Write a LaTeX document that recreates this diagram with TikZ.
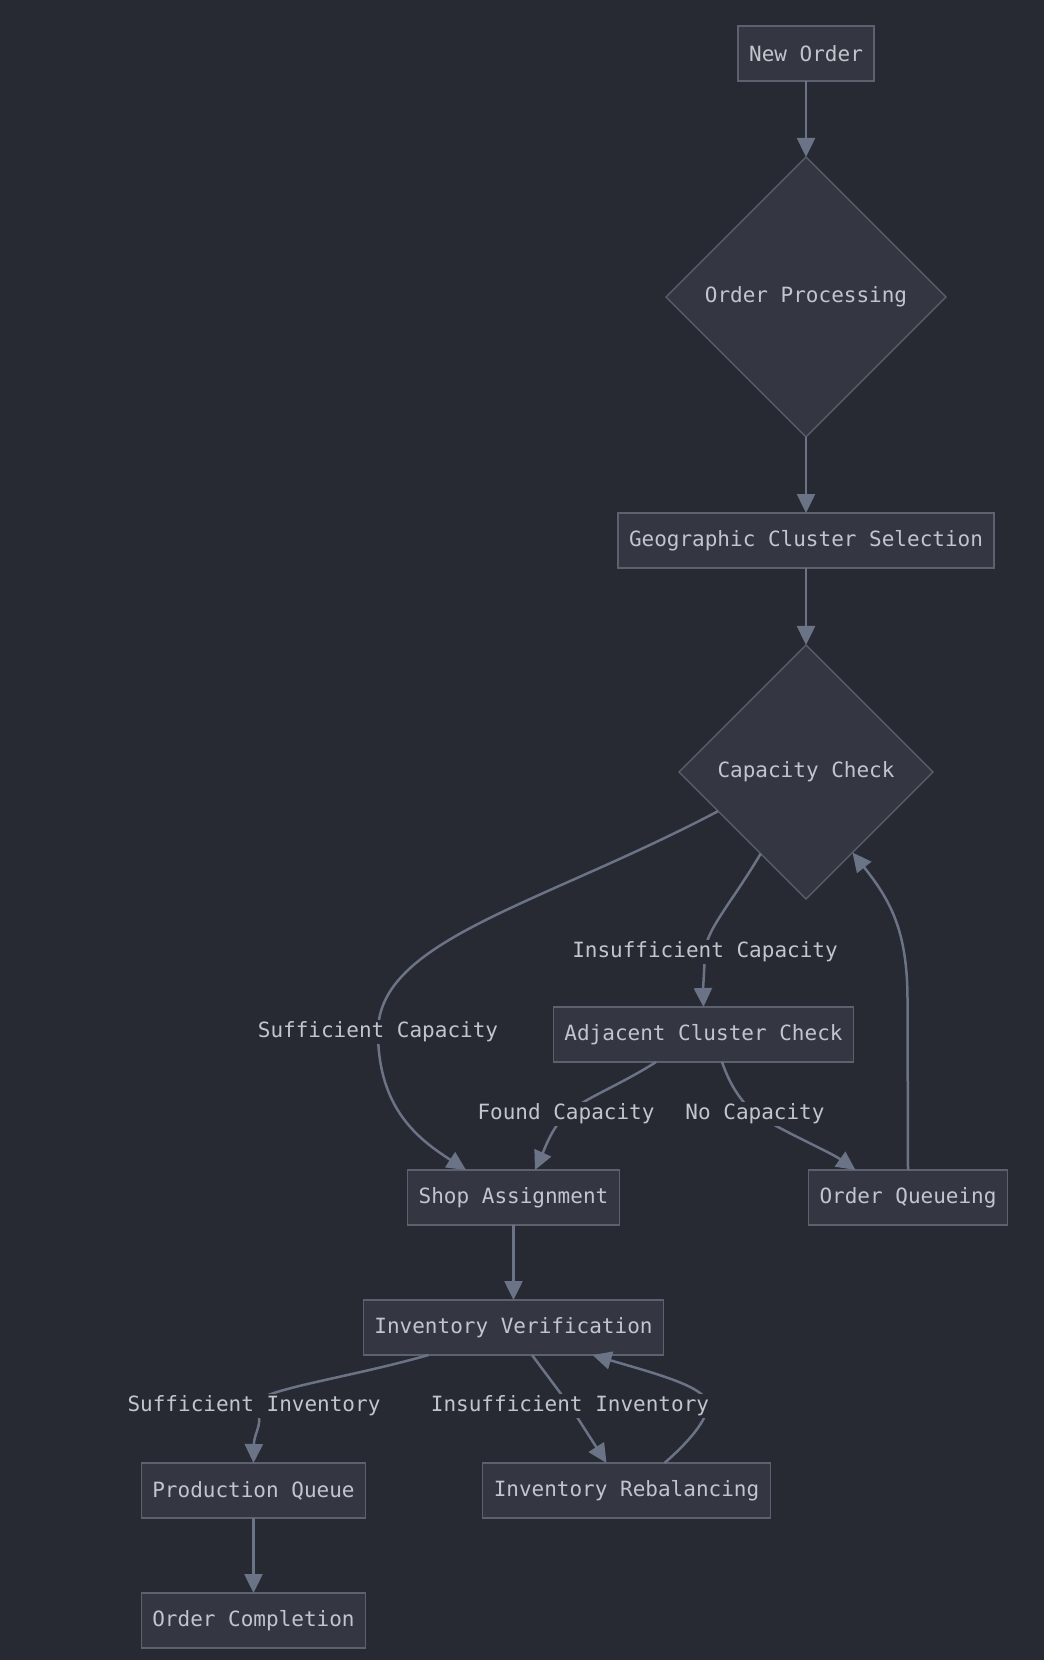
\documentclass[tikz,border=0pt]{standalone}
\usepackage{fontspec}
\setmonofont{DejaVu Sans Mono}
\usepackage{xcolor}
\usetikzlibrary{arrows.meta,positioning,shapes.geometric}
\definecolor{fundo}{HTML}{282A33}
\definecolor{preenche}{HTML}{343741}
\definecolor{borda}{HTML}{5C6170}
\definecolor{linha}{HTML}{6B7386}
\definecolor{texto}{HTML}{C0C5CE}
\tikzset{
    caixa/.style={
        rectangle,
        draw=borda,
        fill=preenche,
        line width=1.3pt,
        text=texto,
        outer sep=0pt,
        minimum height=55pt,
        inner xsep=11pt
    },
    losango/.style={
        diamond,
        draw=borda,
        fill=preenche,
        line width=1.3pt,
        text=texto,
        outer sep=0pt,
        aspect=1,
        inner sep=0pt
    },
    seta/.style={-{Triangle[length=19pt,width=18pt]}, draw=linha, line width=2.5pt},
    rotulo/.style={fill=fundo, text=texto, inner sep=2pt}
}

\begin{document}
\begin{tikzpicture}[x=1pt, y=-1pt, node distance=76pt, font=\ttfamily\fontsize{21}{25}\selectfont]
        \fill[fundo] (0,0) rectangle (1044,1660);
        \useasboundingbox (0,0) rectangle (1044,1660);

        \node[caixa] (neworder) at (806,53.5) {New Order};
        \node[losango, minimum width=280pt, minimum height=280pt, below=of neworder] (processing)
            {Order Processing};
        \node[caixa, below=of processing] (cluster) {Geographic Cluster Selection};
        \node[losango, minimum width=254pt, minimum height=254pt, below=77pt of cluster] (capacity)
            {Capacity Check};
        \node[caixa, below=108pt of capacity, xshift=-102.5pt] (adjacent) {Adjacent Cluster Check};
        \node[caixa, below=108pt of adjacent, xshift=-190pt] (shop) {Shop Assignment};
        \node[caixa, below=108pt of adjacent, xshift=204.5pt] (queueing) {Order Queueing};
        \node[caixa, below=75pt of shop] (inventory) {Inventory Verification};
        \node[caixa, below=108pt of inventory, xshift=-260pt] (production) {Production Queue};
        \node[caixa, below=108pt of inventory, xshift=113pt] (rebalance) {Inventory Rebalancing};
        \node[caixa, below=75pt of production] (completion) {Order Completion};

        \draw[seta] (neworder) -- (processing);
        \draw[seta] (processing) -- (cluster);
        \draw[seta] (cluster) -- (capacity);
        \draw[seta] (capacity.204) .. controls (540,905) and (378,940) .. (378,1032)
            node[rotulo] {Sufficient Capacity}
            .. controls (378,1110) and (420,1140) .. ([xshift=-47.5pt]shop.north);
        \draw[seta] (capacity.241) .. controls (730,905) and (706,930) .. (705,952)
            node[rotulo] {Insufficient Capacity}
            .. controls (704,975) and (703,990) .. (adjacent.north);
        \draw[seta] ([xshift=-47.5pt]adjacent.south) .. controls (620,1085) and (585,1098) .. (566,1114)
            node[rotulo] {Found Capacity}
            .. controls (552,1128) and (545,1148) .. ([xshift=21.5pt]shop.north);
        \draw[seta] ([xshift=18.5pt]adjacent.south) .. controls (730,1085) and (740,1100) .. (755,1114)
            node[rotulo] {No Capacity}
            .. controls (790,1135) and (830,1152) .. ([xshift=-52.5pt]queueing.north);
        \draw[seta] (queueing.north) -- (907.5,1000) .. controls (907.5,930) and (890,900) .. (capacity.300);
        \draw[seta] (shop) -- (inventory);
        \draw[seta] ([xshift=-85pt]inventory.south) .. controls (340,1380) and (254,1390) .. (254,1406)
            node[rotulo] {Sufficient Inventory}
            .. controls (266,1420) and (254,1432) .. (production.north);
        \draw[seta] ([xshift=38pt]rebalance.north) .. controls (700,1432) and (712,1410) .. (706,1400)
            .. controls (700,1385) and (650,1372) .. ([xshift=79pt]inventory.south);
        \draw[seta] ([xshift=18.5pt]inventory.south) -- (570,1406)
            node[rotulo] {Insufficient Inventory} -- ([xshift=-20pt]rebalance.north);
        \draw[seta] (production) -- (completion);
    \end{tikzpicture}
\end{document}
